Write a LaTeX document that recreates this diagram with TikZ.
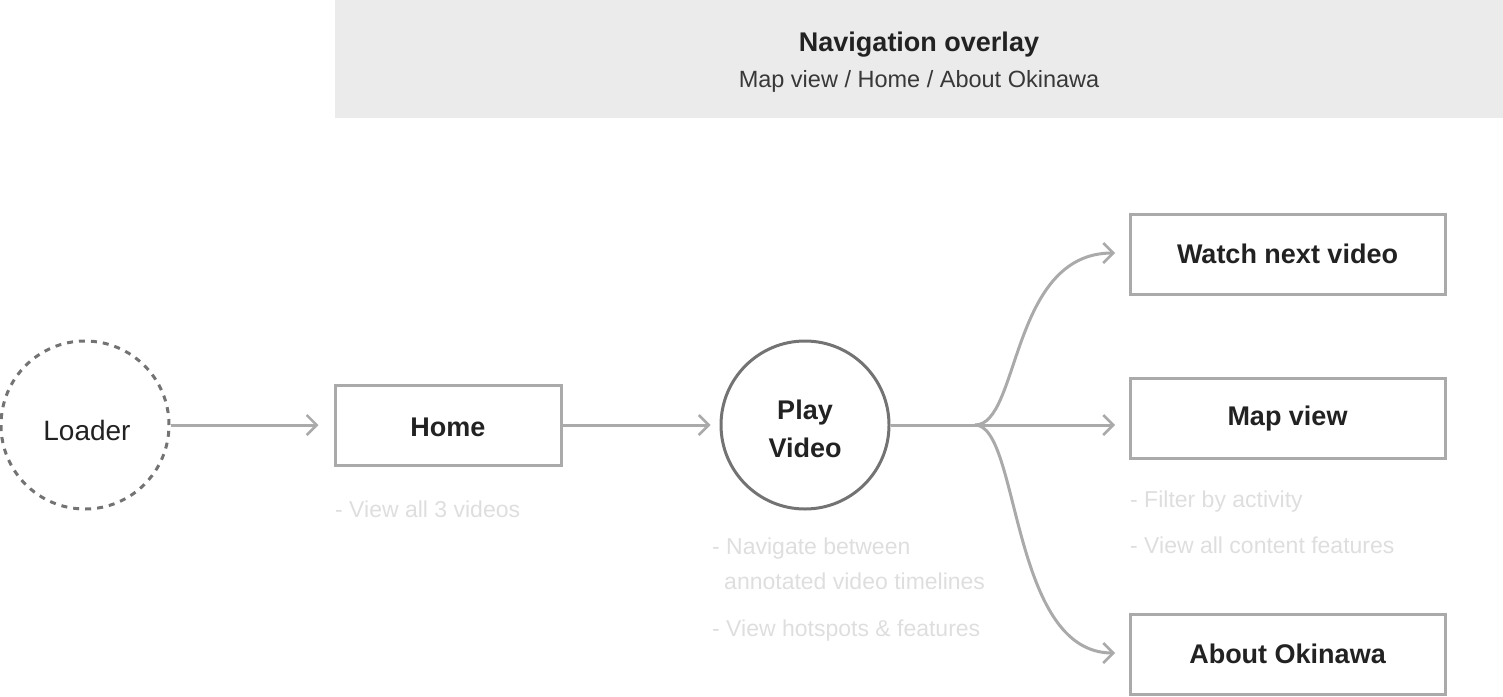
\documentclass[tikz,border=0pt]{standalone}
\usepackage{fontspec}
\setmainfont{Liberation Sans}
\usetikzlibrary{arrows.meta}
\definecolor{linegray}{HTML}{AAAAAA}
\definecolor{circgray}{HTML}{737373}
\definecolor{notegray}{HTML}{DEDEDE}
\definecolor{bandgray}{HTML}{EBEBEB}
\definecolor{textdark}{HTML}{222222}
\tikzset{
  box/.style={draw=linegray, line width=3pt, minimum height=80pt, inner sep=0pt, text=textdark, font=\fontsize{27}{30}\selectfont\bfseries},
  circ/.style={circle, draw=circgray, line width=3pt, minimum size=168pt, inner sep=0pt, text=textdark},
  note/.style={anchor=base west, inner sep=0pt, text=notegray, font=\fontsize{23}{26}\selectfont},
  conn/.style={draw=linegray, line width=3pt, -{Straight Barb[length=10pt,width=20pt,line width=2.5pt]}},
  plain/.style={draw=linegray, line width=3pt}
}
\begin{document}
\begin{tikzpicture}[x=1pt,y=-1pt]
\useasboundingbox (0,0) rectangle (1503,696);
% top band
\fill[bandgray] (335,0) rectangle (1503,118);
\node[anchor=base, inner sep=0pt, text=textdark, font=\fontsize{27}{30}\selectfont\bfseries] (navt) at (919,51) {Navigation overlay};
\node[anchor=base, inner sep=0pt, text=textdark!90, font=\fontsize{23.5}{26}\selectfont] (navs) at (919,87) {Map view / Home / About Okinawa};
% nodes
\node[circle, draw=circgray, line width=3pt, dash pattern=on 6pt off 6pt, minimum size=168pt, inner sep=0pt] (loader) at (85,425) {};
\node[inner sep=0pt, text=textdark, font=\fontsize{28}{30}\selectfont] (loadertext) at (87,430) {Loader};
\node[box, minimum width=226pt] (home) at (448,425) {};
\node[inner sep=0pt, text=textdark, font=\fontsize{27}{30}\selectfont\bfseries] (hometext) at (448,427) {Home};
\node[circ] (play) at (805,425) {};
\node[inner sep=0pt, text=textdark, align=center, font=\fontsize{27}{38}\selectfont\bfseries] (playtext) at (805,429) {Play\\Video};
\node[box, minimum width=315pt] (watch) at (1287.5,254) {Watch next video};
\node[box, minimum width=315pt] (map) at (1287.5,418) {};
\node[inner sep=0pt, text=textdark, font=\fontsize{27}{30}\selectfont\bfseries] (maptext) at (1287.5,419) {Map view};
\node[box, minimum width=315pt] (about) at (1287.5,654) {About Okinawa};
% notes
\node[note] (n1) at (335,517) {- View all 3 videos};
\node[note] (n2) at (712,554) {- Navigate between};
\node[note] (n3) at (724,589) {annotated video timelines};
\node[note] (n4) at (712,636) {- View hotspots \& features};
\node[note] (n5) at (1130,507) {- Filter by activity};
\node[note] (n6) at (1130,553) {- View all content features};
% connectors
\coordinate (j) at (975,425);
\coordinate (tw) at (1115,253);
\coordinate (tm) at (1115,425);
\coordinate (ta) at (1115,653);
\draw[conn, shorten >=15pt] (loader.east) -- (home.west);
\draw[conn, shorten >=9pt] (home.east) -- (play.west);
\draw[plain] (play.east) -- (j);
\draw[conn] (j) .. controls (1020,425) and (1010,253) .. (tw);
\draw[conn] (j) -- (tm);
\draw[conn] (j) .. controls (1020,425) and (1010,653) .. (ta);
\end{tikzpicture}
\end{document}
